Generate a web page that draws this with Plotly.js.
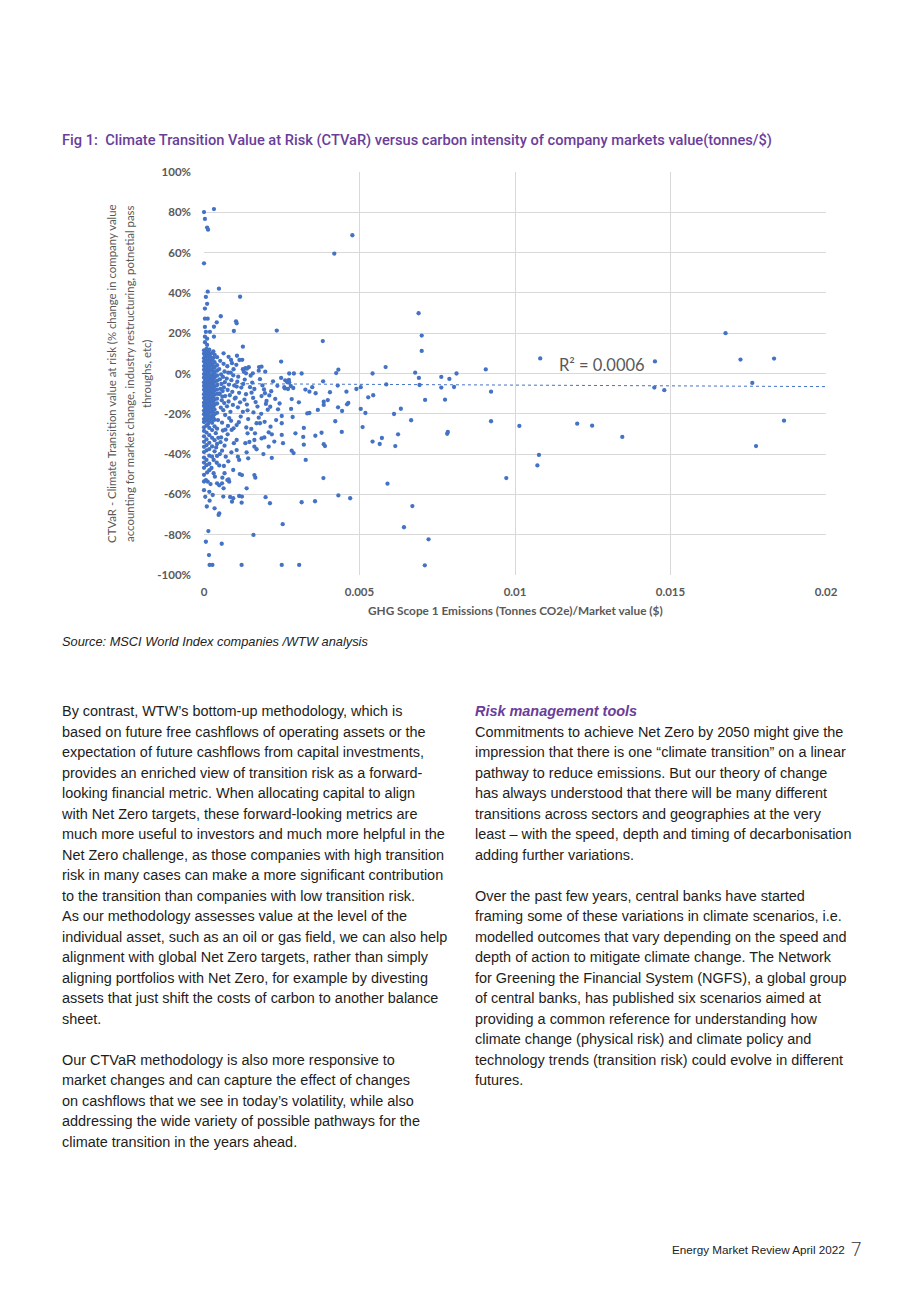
<!DOCTYPE html>
<html>
<head>
<meta charset="utf-8">
<script src="https://cdn.plot.ly/plotly-3.0.1.min.js"></script>
<style>
  html, body { margin:0; padding:0; background:#fff; }
  body { width:920px; height:1302px; position:relative; overflow:hidden; font-family:"Liberation Sans", Arial, sans-serif; color:#1d1d1b; }
  #figtitle { position:absolute; left:62px; top:131px; font-size:14.7px; color:#6a3d9a; white-space:nowrap; font-family:Roboto, "Liberation Sans", sans-serif; font-weight:500; }
  #chart { position:absolute; left:0; top:0; width:920px; height:640px; }
  #source { position:absolute; left:62px; top:634px; font-size:12.8px; font-style:italic; color:#222; white-space:nowrap; }
  .col { position:absolute; font-size:14.45px; line-height:20.5px; white-space:nowrap; color:#1d1d1b; }
  .col .gap { height:20.5px; }
  #left { left:62px; top:701px; }
  #right { left:475px; top:701px; }
  .head { color:#6a3d9a; font-weight:bold; font-style:italic; }
  #footer { position:absolute; left:672px; top:1243px; font-size:11.7px; color:#222; white-space:nowrap; }
  #pageno { position:absolute; left:850px; top:1237px; font-size:20px; font-weight:300; color:#333; font-family:"DejaVu Sans", sans-serif; }
</style>
</head>
<body>
<div id="figtitle">Fig 1:&nbsp; Climate Transition Value at Risk (CTVaR) versus carbon intensity of company markets value(tonnes/$)</div>
<div id="chart"></div>
<div id="source">Source: MSCI World Index companies /WTW analysis</div>
<div id="left" class="col">
<div>By contrast, WTW’s bottom-up methodology, which is</div>
<div>based on future free cashflows of operating assets or the</div>
<div>expectation of future cashflows from capital investments,</div>
<div>provides an enriched view of transition risk as a forward-</div>
<div>looking financial metric. When allocating capital to align</div>
<div>with Net Zero targets, these forward-looking metrics are</div>
<div>much more useful to investors and much more helpful in the</div>
<div>Net Zero challenge, as those companies with high transition</div>
<div>risk in many cases can make a more significant contribution</div>
<div>to the transition than companies with low transition risk.</div>
<div>As our methodology assesses value at the level of the</div>
<div>individual asset, such as an oil or gas field, we can also help</div>
<div>alignment with global Net Zero targets, rather than simply</div>
<div>aligning portfolios with Net Zero, for example by divesting</div>
<div>assets that just shift the costs of carbon to another balance</div>
<div>sheet.</div>
<div class="gap"></div>
<div>Our CTVaR methodology is also more responsive to</div>
<div>market changes and can capture the effect of changes</div>
<div>on cashflows that we see in today’s volatility, while also</div>
<div>addressing the wide variety of possible pathways for the</div>
<div>climate transition in the years ahead.</div>
</div>
<div id="right" class="col">
<div class="head">Risk management tools</div>
<div>Commitments to achieve Net Zero by 2050 might give the</div>
<div>impression that there is one “climate transition” on a linear</div>
<div>pathway to reduce emissions. But our theory of change</div>
<div>has always understood that there will be many different</div>
<div>transitions across sectors and geographies at the very</div>
<div>least – with the speed, depth and timing of decarbonisation</div>
<div>adding further variations.</div>
<div class="gap"></div>
<div>Over the past few years, central banks have started</div>
<div>framing some of these variations in climate scenarios, i.e.</div>
<div>modelled outcomes that vary depending on the speed and</div>
<div>depth of action to mitigate climate change. The Network</div>
<div>for Greening the Financial System (NGFS), a global group</div>
<div>of central banks, has published six scenarios aimed at</div>
<div>providing a common reference for understanding how</div>
<div>climate change (physical risk) and climate policy and</div>
<div>technology trends (transition risk) could evolve in different</div>
<div>futures.</div>
</div>
<div id="footer">Energy Market Review April 2022</div>
<div id="pageno">7</div>
<script>
// ---- DATA (x: GHG intensity tonnes/$, y: CTVaR %) ----
const denseCluster = [
 [0,11.5],[0,9.8],[0,7.6],[0,5.9],[0,3.7],[0,1.8],[0,-0.3],[0,-2.1],[0,-4.4],[0,-6.2],[0,-8.1],[0,-10.3],[0,-12.2],[0,-14.5],[0,-16.1],[0,-18.4],[0,-20.2],[0,-22.6],[0,-24.1],[0,-26.7],[0,-28.5],[0,-31.2],[0,-33.9],[0,-36.4],[0,-39.0],[0,-41.7],[0,-44.2],[0,-46.8],[0,-50.3],[0,-53.6],[0,-57.9],
 [0.00004,10.9],[0.00004,8.9],[0.00004,6.8],[0.00004,4.9],[0.00004,2.9],[0.00004,0.8],[0.00004,-1.2],[0.00004,-3.2],[0.00004,-5.3],[0.00004,-7.2],[0.00004,-9.1],[0.00004,-11.2],[0.00004,-13.3],[0.00004,-15.3],[0.00004,-17.2],[0.00004,-19.4],[0.00004,-21.3],[0.00004,-23.3],
 [0.00008,12.2],[0.00008,10.4],[0.00008,8.3],[0.00008,6.5],[0.00008,4.2],[0.00008,2.5],[0.00008,0.6],[0.00008,-1.4],[0.00008,-3.5],[0.00008,-5.3],[0.00008,-7.4],[0.00008,-9.5],[0.00008,-11.3],[0.00008,-13.4],[0.00008,-15.2],[0.00008,-17.6],[0.00008,-19.3],[0.00008,-21.7],[0.00008,-23.4],[0.00008,-25.8],[0.00008,-29.3],[0.00008,-32.7],[0.00008,-35.6],[0.00008,-38.2],[0.00008,-42.9],[0.00008,-45.5],
 [0.00013,10.8],[0.00013,8.7],[0.00013,6.1],[0.00013,4.0],[0.00013,1.7],[0.00013,-0.2],[0.00013,-2.2],[0.00013,-4.1],[0.00013,-6.0],[0.00013,-8.0],[0.00013,-10.0],[0.00013,-12.0],[0.00013,-14.1],[0.00013,-16.1],[0.00013,-18.2],[0.00013,-20.2],[0.00013,-22.4],[0.00013,-25.1],
 [0.00017,11.8],[0.00017,9.1],[0.00017,7.2],[0.00017,5.0],[0.00017,3.1],[0.00017,1.1],[0.00017,-0.9],[0.00017,-2.9],[0.00017,-4.8],[0.00017,-6.8],[0.00017,-8.8],[0.00017,-10.9],[0.00017,-12.8],[0.00017,-15.0],[0.00017,-17.0],[0.00017,-19.1],[0.00017,-21.3],[0.00017,-23.7],[0.00017,-27.0],[0.00017,-30.6],[0.00017,-34.4],[0.00017,-37.5],[0.00017,-40.8],[0.00017,-44.8],[0.00017,-48.0],
 [0.00021,9.9],[0.00021,8.1],[0.00021,5.9],[0.00021,3.9],[0.00021,1.6],[0.00021,-1.6],[0.00021,-3.8],[0.00021,-5.9],[0.00021,-8.0],[0.00021,-9.9],[0.00021,-11.9],[0.00021,-14.0],[0.00021,-16.3],[0.00021,-19.0],[0.00021,-22.3],
 [0.00026,10.2],[0.00026,6.8],[0.00026,4.6],[0.00026,2.0],[0.00026,-0.4],[0.00026,-2.6],[0.00026,-5.0],[0.00026,-7.1],[0.00026,-9.3],[0.00026,-11.6],[0.00026,-13.6],[0.00026,-15.8],[0.00026,-18.0],[0.00026,-20.9],[0.00026,-24.5],[0.00026,-28.1],[0.00026,-31.9],[0.00026,-36.2],[0.00026,-41.3],
 [0.0003,11.0],[0.0003,7.7],[0.0003,3.6],[0.0003,1.0],[0.0003,-1.3],[0.0003,-3.4],[0.0003,-6.0],[0.0003,-7.8],[0.0003,-10.1],[0.0003,-12.2],[0.0003,-14.4],[0.0003,-16.9],[0.0003,-19.6],[0.0003,-21.8],
 [0.00034,9.4],[0.00034,5.6],[0.00034,2.9],[0.00034,0.3],[0.00034,-1.9],[0.00034,-4.2],[0.00034,-6.5],[0.00034,-8.6],[0.00034,-10.6],[0.00034,-13.0],[0.00034,-15.5],[0.00034,-17.9],[0.00034,-23.0],[0.00034,-26.2],[0.00034,-33.1],[0.00034,-38.6],
 [0.00042,8.1],[0.00042,4.1],[0.00042,1.4],[0.00042,-1.1],[0.00042,-3.6],[0.00042,-5.8],[0.00042,-8.0],[0.00042,-10.1],[0.00042,-12.5],[0.00042,-14.9],[0.00042,-19.5],[0.00042,-27.4],[0.00042,-35.0],[0.00042,-40.9],
 [0.00003,15.5],[0.0001,14.2]
];
const spreadCluster = [
 [0.00052,6.3],[0.00049,2.2],[0.00055,-0.5],[0.00051,-2.9],[0.00056,-5.2],[0.00053,-7.6],[0.0005,-9.9],[0.00057,-13.3],[0.00054,-16.9],[0.00058,-24.4],[0.00055,-31.7],
 [0.00063,4.8],[0.00066,1.0],[0.00061,-1.7],[0.00067,-4.3],[0.00064,-6.9],[0.0006,-8.7],[0.00068,-11.2],[0.00065,-14.7],[0.00062,-18.2],[0.00069,-27.9],[0.00066,-35.8],
 [0.00075,3.6],[0.00078,0.4],[0.00073,-2.5],[0.0008,-5.5],[0.00076,-8.2],[0.00083,-10.8],[0.00079,-13.9],[0.00074,-16.3],[0.00081,-22.1],[0.00077,-26.0],
 [0.0009,5.1],[0.00094,-0.9],[0.00088,-3.3],[0.00097,-6.0],[0.00091,-9.1],[0.00099,-12.4],[0.00093,-15.6],[0.00087,-23.5],[0.00095,-27.2],
 [0.00104,4.3],[0.0011,-1.6],[0.00107,-4.1],[0.00113,-9.6],[0.00102,-12.0],[0.00116,-14.3],[0.00109,-16.8],[0.00118,-21.4],
 [0.00128,0.9],[0.00131,-3.0],[0.00126,-5.2],[0.00135,-10.3],[0.0013,-13.0],[0.00138,-15.4],[0.00142,-22.6],[0.00136,-26.8],
 [0.0015,-1.1],[0.00155,-4.5],[0.00162,-7.7],[0.00158,-12.1],[0.00166,-14.2],[0.00172,-16.4],[0.00152,-27.5],[0.00176,-21.9],
 [0.0018,-2.8],[0.00188,-5.9],[0.00193,-7.9],[0.00201,-13.6],[0.00199,-15.1],[0.0021,-10.9],[0.00222,-3.9],[0.00216,-8.8],[0.00229,-12.6],[0.00236,-6.1],[0.00243,-14.9],[0.00232,-23.1],[0.00214,-26.4],[0.00195,-24.0],
 [0.00045,-23.1],[0.00038,-29.6],[0.00046,-31.9],[0.00039,-36.7],[0.00061,-28.3],[0.00053,-34.1],[0.00071,-32.8],[0.00088,-39.1],[0.00064,-45.9],[0.00024,-46.9],[0.0001,-49.1],[0.00021,-54.9],[0.00004,-61.2],[0.00009,-66.0]
];
const upperLeftPoints = [
 [0,80.1],[0.00032,81.6],[0.00003,76.7],[0.0001,72.4],[0.00013,71.4],[0,54.7],[0.00048,42.1],[0.00012,40.6],[0.00006,38],[0.00116,38.1],[0.0001,34.6],[0.00003,32.2],[0.00054,28.4],[0.00003,27.2],[0.00012,27.2],[0.00041,25.4],[0.00103,25.9],[0.00105,24.9],[0.00003,23.1],[0.00032,23.2],[0.00006,20.7],[0.00019,20.7],[0.00096,21.1],[0.00234,21.3],[0.00003,18.3],[0.0001,17.3],[0.00032,18.3],[0.00125,13.3],[0.00079,8.3],[0.00106,8.8],[0.00087,6.7],[0.00114,6.7],[0.00123,6.8],[0.00177,3.2],[0.00133,2.7],[0.00144,3.1],[0.00063,10],[0.00185,3.4],[0.00197,0.9],[0.00176,1.4],[0.00095,2.1],[0.00125,2.1],[0.00138,2.4],[0.00086,0.4],[0.00135,0.1],[0.00157,0.1],[0.00248,-2.2],[0.00273,-3.2]
];
const lowerLeftPoints = [
 [0.0005,-10.2],[0.00059,-11.5],[0.00105,-6.5],[0.0012,-7],[0.00148,-6.8],[0.00153,-9.5],[0.00185,-11.2],[0.00196,-9.8],[0.00213,-16.5],[0.00238,-17.8],[0.00279,-6.2],[0.00258,-6.8],[0.00287,-7.2],[0.00125,-19],[0.0014,-18.3],[0.00159,-19.3],[0.00085,-19],[0.00068,-20.6],[0.00034,-20.2],[0.00028,-22.7],[0.00184,-20],[0.00205,-18],[0.00112,-24.2],[0.00105,-25.6],[0.00169,-24.7],[0.0018,-24.7],[0.00332,-19.8],[0.0014,-29.7],[0.00164,-29.7],[0.00208,-29.2],[0.00218,-30.2],[0.00185,-32.2],[0.00194,-31.7],[0.00226,-33.8],[0.00133,-34.6],[0.00146,-34],[0.00162,-33],[0.00076,-30.2],[0.00089,-28],[0.00105,-33],[0.00096,-34.6],[0.00162,-36.3],[0.00169,-37.6],[0.00208,-36.3],[0.00137,-39.1],[0.00142,-42.1],[0.00191,-40],[0.00218,-41.9],[0.00105,-38],[0.00109,-41.3],[0.00113,-42.9],[0.00058,-38.3],[0.00051,-40],[0.0007,-41.3],[0.00078,-43.6],[0.00031,-42.9],[0.00041,-44.3],[0.00049,-45.6],[0.00094,-47.9],[0.00115,-49.9],[0.00122,-50.4],[0.00162,-50.4],[0.00165,-51.7],[0.00066,-49.5],[0.00075,-52.9],[0.00059,-51.7],[0.00031,-49.5],[0.00035,-51.2],[0.00042,-54.5],[0.00006,-52.9],[0.00137,-57],[0.00049,-55.5],[0.00063,-57],[0.00017,-58.7],[0.00028,-60.3],[0.00062,-61.1],[0.00084,-61.3],[0.00094,-61.9],[0.00113,-60.8],[0.00122,-61.1],[0.00198,-61.4],[0.00212,-64.4],[0.0009,-63.6],[0.00121,-64.1],[0.00018,-63.1],[0.00034,-66.9],[0.00049,-69.4],[0.00047,-70.2],[0.00014,-78.2],[0.00159,-80.1],[0.00006,-83.5],[0.00057,-84.5],[0.00016,-90.1],[0.00018,-95],[0.00027,-95],[0.00121,-95],[0.00081,-53.7],[0.00079,-52.6],[0.00058,-54.5],[0.00012,-53.7]
];
const midPoints = [
 [0.00477,68.6],[0.00419,59.5],[0.00382,16.1],[0.00248,5.9],[0.00432,1.9],[0.00425,0.2],[0.00274,0],[0.00289,0],[0.00314,0],[0.00383,-3.9],[0.00261,-3.4],[0.00268,-4.4],[0.00274,-4.4],[0.0043,-6],[0.00348,-6.8],[0.0049,-7.7],[0.00504,-6.8],[0.00326,-8],[0.0026,-7.4],[0.0027,-7.7],[0.00339,-9],[0.00359,-9.8],[0.00405,-9.3],[0.00458,-9],[0.00282,-12.7],[0.00305,-14.3],[0.00385,-14],[0.00398,-13.2],[0.00385,-15.6],[0.00464,-14.6],[0.0046,-15.3],[0.00528,-11.8],[0.0028,-17.6],[0.00366,-18.1],[0.00339,-19.6],[0.00431,-16.8],[0.00444,-18.6],[0.00504,-17.6],[0.00519,-19.6],[0.0025,-21.1],[0.00285,-21.6],[0.0025,-24.7],[0.00422,-23.7],[0.00321,-27],[0.0051,-26.6],[0.00378,-29.4],[0.00443,-29],[0.00294,-29.7],[0.0025,-30.5],[0.00319,-31.5],[0.00358,-30.9],[0.00254,-34.6],[0.00321,-35.3],[0.00385,-35.1],[0.00389,-36],[0.00282,-38.3],[0.00288,-39.5],[0.00327,-42.9],[0.00384,-51.9],[0.00432,-60.5],[0.0047,-61.9],[0.00314,-63.9],[0.00357,-63.4],[0.00253,-74.8],[0.0025,-95],[0.00306,-95]
];
const rightPoints = [
 [0.0069,29.9],[0.0070,18.8],[0.0070,11.2],[0.00584,3.2],[0.00542,0],[0.00679,0.4],[0.00691,-2.2],[0.00693,-5.7],[0.00586,-5.4],[0.00544,-10.8],[0.00763,-1.7],[0.00789,-2.7],[0.00763,-7],[0.00804,-6.7],[0.00812,0],[0.00906,2],[0.00923,-9],[0.00711,-13.1],[0.00775,-13],[0.00633,-17.5],[0.00611,-20.1],[0.00666,-23.2],[0.00923,-23.7],[0.00784,-29],[0.00782,-29.9],[0.00624,-30.2],[0.00572,-32],[0.00542,-33.8],[0.00565,-35],[0.00615,-36],[0.01014,-26],[0.01081,7.5],[0.0145,6.0],[0.01448,-7],[0.0148,-8.3],[0.012,-24.9],[0.01248,-25.9],[0.01345,-31.5],[0.01077,-40.4],[0.01072,-45.6],[0.00972,-51.9],[0.0059,-54.7],[0.0067,-65.8],[0.00643,-76.3],[0.00722,-82.3],[0.0071,-95.2],[0.01677,20],[0.01725,6.9],[0.01833,7.4],[0.01763,-4.7],[0.01865,-23.4],[0.01775,-36]
];
const trendX = [0, 0.02];
const trendY = [-5.0, -6.5];
const rSquaredLabel = 'R² = 0.0006';
const xTickVals = [0, 0.005, 0.01, 0.015, 0.02];
const xTickLabels = ['0', '0.005', '0.01', '0.015', '0.02'];
const yTickVals = [-100, -80, -60, -40, -20, 0, 20, 40, 60, 80, 100];
const yTickLabels = ['-100%', '-80%', '-60%', '-40%', '-20%', '0%', '20%', '40%', '60%', '80%', '100%'];
const xTitle = 'GHG Scope 1 Emissions (Tonnes CO2e)/Market value ($)';
const yTitleLines = [
  'CTVaR - Climate Transition value at risk (% change in company value',
  'accounting for market change, industry restructuring, potnetial pass',
  'throughs, etc)'
];

const allPts = [].concat(denseCluster, spreadCluster, upperLeftPoints, lowerLeftPoints, midPoints, rightPoints);
const gray = '#595959';
const fam = 'Lato, "Open Sans", sans-serif';
const tickFont = {family: fam, size: 11.5, color: gray, weight: 'bold'};

const traces = [
  {type: 'scatter', mode: 'markers', x: allPts.map(p => p[0]), y: allPts.map(p => p[1]),
   marker: {color: '#4472c4', size: 4.3, line: {width: 0}}, hoverinfo: 'skip', showlegend: false, cliponaxis: false},
  {type: 'scatter', mode: 'lines', x: trendX, y: trendY,
   line: {color: '#4472c4', width: 1, dash: 'dot'}, hoverinfo: 'skip', showlegend: false}
];

const yTitleX = [-0.1479, -0.119, -0.0916];
const annotations = [
  {xref: 'paper', yref: 'paper', x: 0.5, y: -0.0893, text: xTitle, showarrow: false, xanchor: 'center', yanchor: 'middle',
   font: {family: fam, size: 11.8, color: gray, weight: 'bold'}},
  {xref: 'x', yref: 'y', x: 0.01281, y: 4.2, text: rSquaredLabel, showarrow: false, xanchor: 'center', yanchor: 'middle',
   font: {family: fam, size: 16.5, color: gray}}
];
yTitleLines.forEach((t, i) => annotations.push({
  xref: 'paper', yref: 'paper', x: yTitleX[i], y: 0.499, text: t, showarrow: false, textangle: -90,
  xanchor: 'center', yanchor: 'middle', font: {family: fam, size: 11.4, color: gray}
}));

const layout = {
  width: 920, height: 640,
  margin: {l: 204, r: 94, t: 172, b: 65},
  paper_bgcolor: 'rgba(0,0,0,0)', plot_bgcolor: '#fff',
  showlegend: false,
  xaxis: {range: [0, 0.02], tickvals: xTickVals, ticktext: xTickLabels, showgrid: true, gridcolor: '#d9d9d9', gridwidth: 1,
          zeroline: false, showline: false, ticks: '', tickfont: tickFont, ticklabelstandoff: 8, fixedrange: true},
  yaxis: {range: [-100, 100], tickvals: yTickVals, ticktext: yTickLabels, showgrid: true, gridcolor: '#d9d9d9', gridwidth: 1,
          zeroline: false, showline: false, ticks: '', tickfont: tickFont, ticklabelstandoff: 12, fixedrange: true},
  annotations: annotations
};
Plotly.newPlot('chart', traces, layout, {displayModeBar: false, staticPlot: true});

// fit the figure title to its printed width
const ft = document.getElementById('figtitle');
const w = ft.getBoundingClientRect().width;
if (w > 0) ft.style.fontSize = (14.7 * 710 / w).toFixed(2) + 'px';
</script>
</body>
</html>
